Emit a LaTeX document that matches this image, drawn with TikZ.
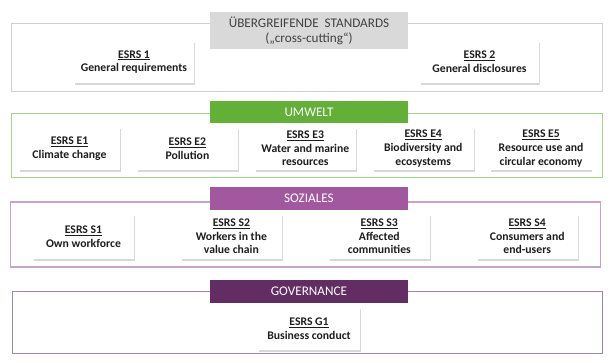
\documentclass[tikz,border=0pt]{standalone}
\usepackage{fontspec}
\setmainfont{Carlito}
\usepackage{tikz}
\usetikzlibrary{positioning,shadows}
\usepackage{xcolor}
\definecolor{greyhead}{HTML}{D9D9D9}
\definecolor{greyline}{HTML}{D0D0D0}
\definecolor{umwelt}{HTML}{62B038}
\definecolor{umweltline}{HTML}{A3D488}
\definecolor{soziales}{HTML}{A2589F}
\definecolor{sozialesline}{HTML}{C9A2C8}
\definecolor{governance}{HTML}{622D62}
\definecolor{governanceline}{HTML}{A585A5}
\definecolor{ink}{HTML}{1E1E1E}
\newcommand{\esrs}[2]{\underline{ESRS #1}\\#2}

\begin{document}
\begin{tikzpicture}[
  x=1pt, y=-1pt,
  font=\fontsize{11.7}{13.6}\selectfont,
  frame/.style={draw, fill=white, line width=0.9pt, minimum width=591pt, inner sep=0pt,
    drop shadow={shadow xshift=0.6pt, shadow yshift=-1.2pt, opacity=0.25}},
  head/.style={minimum width=198pt, inner sep=0pt, text=white, font=\fontsize{13.2}{15}\selectfont},
  std/.style={fill=white, align=center, minimum width=101pt, minimum height=43pt, inner sep=0pt,
    text=ink, font=\fontsize{11.7}{13.6}\selectfont\bfseries,
    drop shadow={shadow xshift=0.8pt, shadow yshift=-1.6pt, opacity=0.3}}
]
\useasboundingbox (0,0) rectangle (613,363);

% cross-cutting
\node[frame, draw=greyline, minimum height=68pt] (crossbox) at (306.5,57) {};
\node[head, fill=greyhead, text=black!75, minimum height=37pt, align=center] (crosshead) at (309,30.5)
  {ÜBERGREIFENDE~ STANDARDS\\(„cross-cutting“)};
\node[std, minimum width=120pt, minimum height=42pt] (s1) at (134,62) {\esrs{1}{General requirements}};
\node[std, minimum width=119pt, minimum height=42pt] (s2) at (479.5,62) {\esrs{2}{General disclosures}};

% Umwelt
\node[frame, draw=umweltline, minimum height=64pt] (envbox) at (306.5,145) {};
\node[head, fill=umwelt, minimum height=22pt] (envhead) at (309,112) {UMWELT};
\node[std] (e1) at (69.5,148.5) {\esrs{E1}{Climate change}};
\node[std, right=16.5pt of e1] (e2) {\esrs{E2}{Pollution}};
\node[std, right=16.5pt of e2] (e3) {\esrs{E3}{Water and marine\\resources}};
\node[std, right=16.5pt of e3] (e4) {\esrs{E4}{Biodiversity and\\ecosystems}};
\node[std, right=16.5pt of e4] (e5) {\esrs{E5}{Resource use and\\circular economy}};

% Soziales
\node[frame, draw=sozialesline, line width=1.1pt, minimum width=590pt, minimum height=65pt] (socbox) at (305.5,234.5) {};
\node[head, fill=soziales, minimum height=23pt] (sochead) at (309,198.5) {SOZIALES};
\node[std, minimum height=45pt] (so1) at (83.5,236.5) {\esrs{S1}{Own workforce}};
\node[std, minimum height=45pt, right=46.5pt of so1] (so2) {\esrs{S2}{Workers in the\\value chain}};
\node[std, minimum height=45pt, right=46.5pt of so2] (so3) {\esrs{S3}{Affected\\communities}};
\node[std, minimum height=45pt, right=46.5pt of so3] (so4) {\esrs{S4}{Consumers and\\end-users}};

% Governance
\node[frame, draw=governanceline, minimum width=590pt, minimum height=62pt] (govbox) at (307,322) {};
\node[head, fill=governance, minimum height=23pt] (govhead) at (309,291.5) {GOVERNANCE};
\node[std, minimum width=102pt] (g1) at (309,328.5) {\esrs{G1}{Business conduct}};
\end{tikzpicture}
\end{document}
